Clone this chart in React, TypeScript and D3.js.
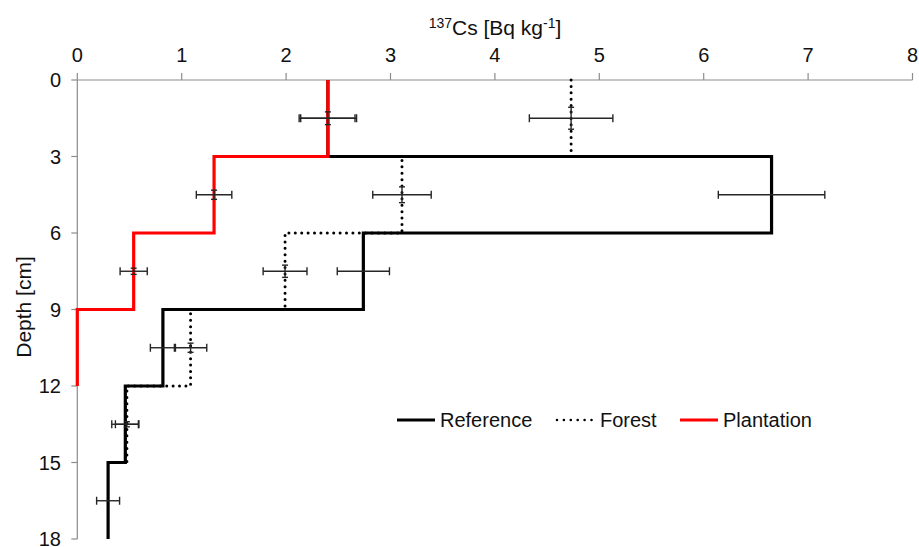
import React from 'react';
import * as d3 from 'd3';

const depthBounds = [0, 3, 6, 9, 12, 15, 18];
const midDepths = [1.5, 4.5, 7.5, 10.5, 13.5, 16.5];
const referenceValues = [2.4, 6.65, 2.74, 0.82, 0.46, 0.295];
const forestValues = [4.73, 3.11, 1.99, 1.085, 0.475];
const plantationValues = [2.4, 1.31, 0.54, 0];
const referenceXErr = [0.275, 0.51, 0.25, 0.12, 0.13, 0.11];
const referenceYErr = [0, 0, 0, 0, 0, 0];
const forestXErr = [0.4, 0.28, 0.21, 0.155, 0.11];
const forestYErr = [0.43, 0.31, 0.24, 0.18, 0.1];
const plantationXErr = [0.26, 0.17, 0.13, 0];
const plantationYErr = [0.25, 0.18, 0.12, 0];
const xTicks = [0, 1, 2, 3, 4, 5, 6, 7, 8];
const yTicks = [0, 3, 6, 9, 12, 15, 18];
const legendLabels = ['Reference', 'Forest', 'Plantation'];

const W = 919;
const H = 547;
const FONT = "'Liberation Sans', Arial, Helvetica, sans-serif";

const x = d3.scaleLinear().domain([0, 8]).range([77.3, 912.5]);
const y = d3.scaleLinear().domain([0, 18]).range([80, 539]);

const stepPoints = (values: number[]) =>
  values.flatMap((v, i) => [
    [v, depthBounds[i]] as [number, number],
    [v, depthBounds[i + 1]] as [number, number],
  ]);

const line = d3
  .line<[number, number]>()
  .x((d) => x(d[0]))
  .y((d) => y(d[1]));

function ErrorBars({ values, xErr, yErr }: { values: number[]; xErr: number[]; yErr: number[] }) {
  const col = '#262626';
  return (
    <g stroke={col} strokeWidth={1.4} fill="none">
      {values.map((v, i) => {
        const cy = y(midDepths[i]);
        const ex = xErr[i];
        const ey = yErr[i];
        const parts: React.ReactNode[] = [];
        if (ex > 0) {
          const x0 = x(v - ex);
          const x1 = x(v + ex);
          parts.push(<line key="h" x1={x0} x2={x1} y1={cy} y2={cy} />);
          parts.push(<line key="c0" x1={x0} x2={x0} y1={cy - 4} y2={cy + 4} />);
          parts.push(<line key="c1" x1={x1} x2={x1} y1={cy - 4} y2={cy + 4} />);
        }
        if (ey > 0) {
          const cx = x(v);
          const y0 = y(midDepths[i] - ey);
          const y1 = y(midDepths[i] + ey);
          parts.push(<line key="v" x1={cx} x2={cx} y1={y0} y2={y1} />);
          parts.push(<line key="d0" x1={cx - 3} x2={cx + 3} y1={y0} y2={y0} />);
          parts.push(<line key="d1" x1={cx - 3} x2={cx + 3} y1={y1} y2={y1} />);
        }
        return <g key={i}>{parts}</g>;
      })}
    </g>
  );
}

export default function App() {
  const axisCol = '#8c8c8c';
  return (
    <svg
      width={W}
      height={H}
      style={{ position: 'absolute', left: 0, top: 0, background: '#fff' }}
      fontFamily={FONT}
    >
      <rect x={0} y={0} width={W} height={H} fill="#fff" />
      {/* axes */}
      <g stroke={axisCol} strokeWidth={1.2}>
        <line x1={x(0)} x2={x(8)} y1={y(0)} y2={y(0)} />
        <line x1={x(0)} x2={x(0)} y1={y(0)} y2={y(18)} />
        {xTicks.map((t) => (
          <line key={t} x1={x(t)} x2={x(t)} y1={y(0)} y2={y(0) - 7} />
        ))}
        {yTicks.map((t) => (
          <line key={t} x1={x(0)} x2={x(0) - 6} y1={y(t)} y2={y(t)} />
        ))}
      </g>
      <g fontSize={20} fill="#111">
        {xTicks.map((t) => (
          <text key={t} x={x(t)} y={62} textAnchor="middle">
            {t}
          </text>
        ))}
        {yTicks.map((t) => (
          <text key={t} x={61} y={y(t)} dy="0.35em" textAnchor="end">
            {t}
          </text>
        ))}
      </g>
      <text x={495} y={35} textAnchor="middle" fontSize={21} fill="#111">
        <tspan fontSize={14} dy={-7}>137</tspan>
        <tspan dy={7}>Cs [Bq kg</tspan>
        <tspan fontSize={14} dy={-7}>-1</tspan>
        <tspan dy={7}>]</tspan>
      </text>
      <text
        transform={`translate(31,307) rotate(-90)`}
        textAnchor="middle"
        fontSize={21}
        fill="#111"
      >
        Depth [cm]
      </text>

      {/* series */}
      <path
        d={line(stepPoints(forestValues)) || ''}
        fill="none"
        stroke="#000"
        strokeWidth={3}
        strokeDasharray="0 6.4"
        strokeLinecap="round"
      />
      <path d={line(stepPoints(referenceValues)) || ''} fill="none" stroke="#000" strokeWidth={3.2} />
      <path d={line(stepPoints(plantationValues)) || ''} fill="none" stroke="#ff0000" strokeWidth={3.2} />

      <ErrorBars values={referenceValues} xErr={referenceXErr} yErr={referenceYErr} />
      <ErrorBars values={forestValues} xErr={forestXErr} yErr={forestYErr} />
      <ErrorBars values={plantationValues} xErr={plantationXErr} yErr={plantationYErr} />

      {/* legend */}
      <g>
        <line x1={397} x2={435} y1={420} y2={420} stroke="#000" strokeWidth={3.2} />
        <text x={440} y={427} fontSize={20} fill="#111">{legendLabels[0]}</text>
        <line
          x1={557}
          x2={592}
          y1={420}
          y2={420}
          stroke="#000"
          strokeWidth={2.6}
          strokeDasharray="0 6.9"
          strokeLinecap="round"
        />
        <text x={600} y={427} fontSize={20} fill="#111">{legendLabels[1]}</text>
        <line x1={680} x2={718} y1={420} y2={420} stroke="#ff0000" strokeWidth={3.2} />
        <text x={723} y={427} fontSize={20} fill="#111">{legendLabels[2]}</text>
      </g>
    </svg>
  );
}
